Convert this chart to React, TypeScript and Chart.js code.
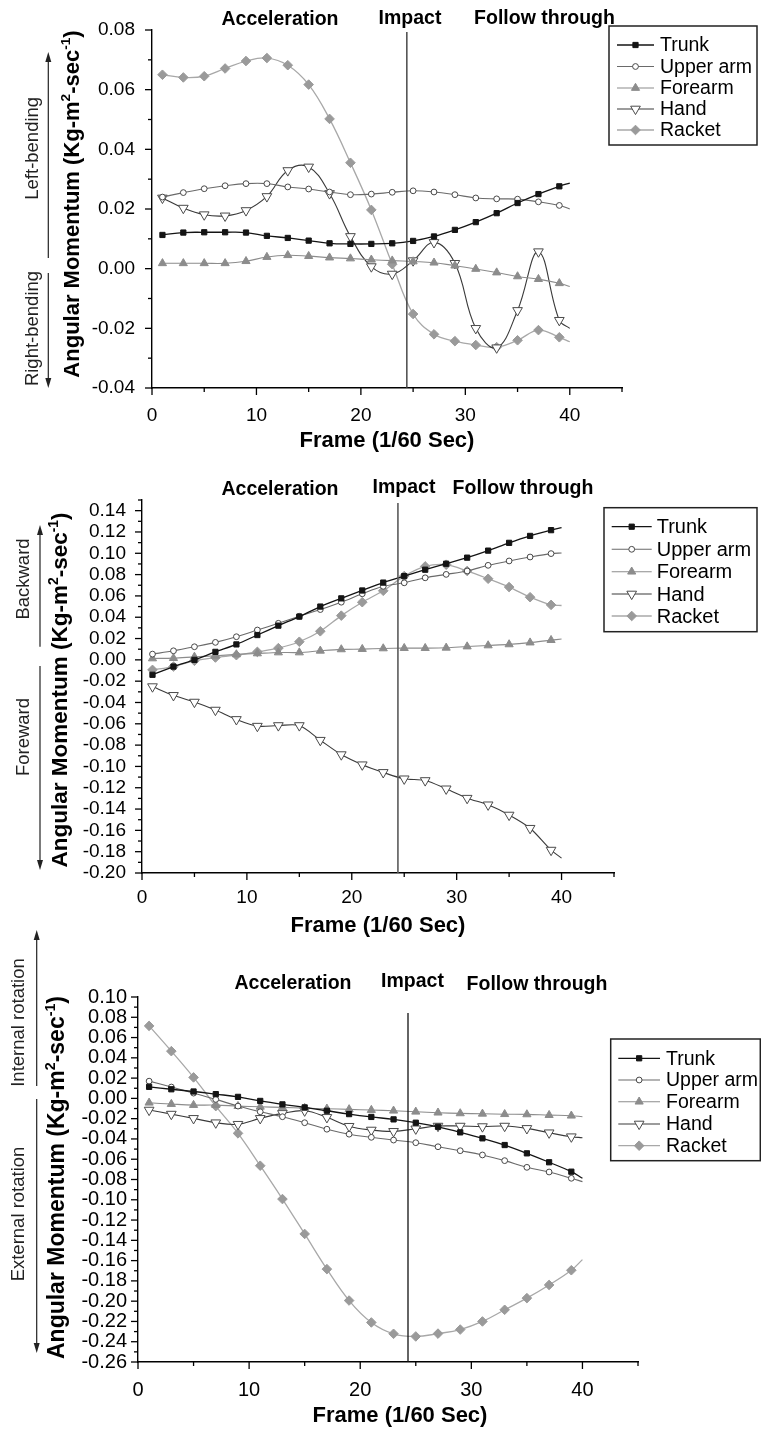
import React, { useEffect, useRef } from 'react';
import { Chart, registerables } from 'chart.js';
Chart.register(...registerables);

const FONT = '"Liberation Sans", Arial, Helvetica, sans-serif';

// ---------- data ----------
const FRAMES = [1, 3, 5, 7, 9, 11, 13, 15, 17, 19, 21, 23, 25, 27, 29, 31, 33, 35, 37, 39, 40];
const SERIES_NAMES = ['Trunk', 'Upper arm', 'Forearm', 'Hand', 'Racket'];
const X_TICKS = [0, 10, 20, 30, 40];
const PHASE_LABELS = ['Acceleration', 'Impact', 'Follow through'];
const X_TITLE = 'Frame (1/60 Sec)';
const Y_TITLE_PARTS = ['Angular Momentum (Kg-m', '2', '-sec', '-1', ')'];
const Y_TITLE_SUP = [false, true, false, true, false];
const IMPACT_FRAMES = [24.4, 24.4, 24.3];

// Panel 1: lateral bending
const Y_TICKS_1 = [-0.04, -0.02, 0.0, 0.02, 0.04, 0.06, 0.08];
const SIDE_LABELS_1 = ['Left-bending', 'Right-bending'];
const P1_TRUNK = [0.0113, 0.0121, 0.0122, 0.0122, 0.0121, 0.0110, 0.0103, 0.0094, 0.0085, 0.0083, 0.0083, 0.0085, 0.0093, 0.0108, 0.0130, 0.0156, 0.0186, 0.0220, 0.0250, 0.0276, 0.0287];
const P1_UPPER = [0.0240, 0.0255, 0.0268, 0.0278, 0.0285, 0.0285, 0.0274, 0.0267, 0.0257, 0.0248, 0.0250, 0.0256, 0.0261, 0.0257, 0.0248, 0.0237, 0.0234, 0.0233, 0.0224, 0.0212, 0.0200];
const P1_FOREARM = [0.0018, 0.0018, 0.0018, 0.0018, 0.0025, 0.0039, 0.0045, 0.0042, 0.0037, 0.0034, 0.0030, 0.0027, 0.0024, 0.0020, 0.0010, -0.0001, -0.0013, -0.0026, -0.0035, -0.0049, -0.0060];
const P1_HAND = [0.0237, 0.0203, 0.0181, 0.0177, 0.0195, 0.0242, 0.0329, 0.0341, 0.0252, 0.0108, 0.0007, -0.0018, 0.0027, 0.0088, 0.0018, -0.0200, -0.0265, -0.0140, 0.0057, -0.0173, -0.0200];
const P1_RACKET = [0.0650, 0.0641, 0.0645, 0.0671, 0.0696, 0.0706, 0.0682, 0.0617, 0.0502, 0.0355, 0.0197, 0.0015, -0.0152, -0.0220, -0.0243, -0.0256, -0.0263, -0.0240, -0.0206, -0.0230, -0.0245];

// Panel 2: flexion / extension
const Y_TICKS_2 = [-0.20, -0.18, -0.16, -0.14, -0.12, -0.10, -0.08, -0.06, -0.04, -0.02, 0.0, 0.02, 0.04, 0.06, 0.08, 0.10, 0.12, 0.14];
const SIDE_LABELS_2 = ['Backward', 'Foreward'];
const P2_TRUNK = [-0.0140, -0.0063, 0.0000, 0.0075, 0.0145, 0.0233, 0.0321, 0.0406, 0.0500, 0.0577, 0.0651, 0.0725, 0.0786, 0.0846, 0.0902, 0.0959, 0.1025, 0.1098, 0.1163, 0.1217, 0.1240];
const P2_UPPER = [0.0054, 0.0085, 0.0123, 0.0164, 0.0217, 0.0280, 0.0343, 0.0409, 0.0472, 0.0541, 0.0620, 0.0690, 0.0723, 0.0770, 0.0802, 0.0834, 0.0887, 0.0928, 0.0965, 0.0997, 0.1003];
const P2_FOREARM = [0.0013, 0.0016, 0.0028, 0.0038, 0.0051, 0.0060, 0.0069, 0.0069, 0.0085, 0.0098, 0.0101, 0.0107, 0.0110, 0.0110, 0.0113, 0.0125, 0.0135, 0.0145, 0.0162, 0.0185, 0.0195];
const P2_HAND = [-0.0251, -0.0333, -0.0396, -0.0471, -0.0559, -0.0622, -0.0616, -0.0616, -0.0754, -0.0889, -0.0984, -0.1056, -0.1116, -0.1132, -0.1210, -0.1298, -0.1360, -0.1456, -0.1580, -0.1785, -0.1860];
const P2_RACKET = [-0.0094, -0.0063, -0.0009, 0.0022, 0.0044, 0.0075, 0.0110, 0.0170, 0.0268, 0.0415, 0.0541, 0.0648, 0.0786, 0.0877, 0.0893, 0.0834, 0.0761, 0.0683, 0.0588, 0.0516, 0.0510];

// Panel 3: internal / external rotation
const Y_TICKS_3 = [-0.26, -0.24, -0.22, -0.20, -0.18, -0.16, -0.14, -0.12, -0.10, -0.08, -0.06, -0.04, -0.02, 0.0, 0.02, 0.04, 0.06, 0.08, 0.10];
const SIDE_LABELS_3 = ['Internal rotation', 'External rotation'];
const P3_TRUNK = [0.0114, 0.0090, 0.0068, 0.0042, 0.0015, -0.0025, -0.0059, -0.0089, -0.0122, -0.0155, -0.0183, -0.0207, -0.0240, -0.0280, -0.0335, -0.0394, -0.0460, -0.0542, -0.0630, -0.0723, -0.0788];
const P3_UPPER = [0.0170, 0.0112, 0.0052, -0.0010, -0.0076, -0.0132, -0.0181, -0.0240, -0.0304, -0.0353, -0.0384, -0.0411, -0.0437, -0.0477, -0.0516, -0.0558, -0.0614, -0.0680, -0.0726, -0.0788, -0.0821];
const P3_FOREARM = [-0.0043, -0.0056, -0.0066, -0.0066, -0.0076, -0.0083, -0.0089, -0.0096, -0.0102, -0.0108, -0.0115, -0.0122, -0.0132, -0.0141, -0.0148, -0.0152, -0.0156, -0.0158, -0.0165, -0.0171, -0.0181];
const P3_HAND = [-0.0115, -0.0155, -0.0197, -0.0240, -0.0255, -0.0197, -0.0148, -0.0122, -0.0187, -0.0275, -0.0312, -0.0325, -0.0300, -0.0273, -0.0273, -0.0278, -0.0273, -0.0296, -0.0339, -0.0378, -0.0388];
const P3_RACKET = [0.0715, 0.0466, 0.0207, -0.0076, -0.0345, -0.0664, -0.0993, -0.1337, -0.1684, -0.1994, -0.2210, -0.2322, -0.2348, -0.2320, -0.2280, -0.2200, -0.2085, -0.1970, -0.1840, -0.1695, -0.1590];

// ---------- styles ----------
const SERIES_STYLE = [
  { line: '#141414', lw: 1.3, shape: 'rect', r: 3.7, fill: '#141414', stroke: '#141414', rot: 0 },
  { line: '#6a6a6a', lw: 1.1, shape: 'circle', r: 2.9, fill: '#ffffff', stroke: '#474747', rot: 0 },
  { line: '#8c8c8c', lw: 1.1, shape: 'triangle', r: 4.7, fill: '#8c8c8c', stroke: '#8c8c8c', rot: 0 },
  { line: '#3a3a3a', lw: 1.1, shape: 'triangle', r: 5.6, fill: '#ffffff', stroke: '#4a4a4a', rot: 180 },
  { line: '#a8a8a8', lw: 1.3, shape: 'rectRot', r: 4.8, fill: '#9a9a9a', stroke: '#9a9a9a', rot: 0 },
];

type Pt = { x: number; y: number };
type PanelCfg = {
  top: number; height: number;
  area: { left: number; right: number; top: number; bottom: number };
  yMin: number; yMax: number; yTicks: number[]; yLabelPad: number; xLabelPad: number; tickFont: number;
  impact: number; impactTop: number; impactColor: string; impactWidth: number;
  headers: Pt[];
  legend: { x1: number; x2: number; y1: number; y2: number; rows: number[]; sx1: number; sx2: number; tx: number; font: number };
  yTitle: { x: number; y: number; size: number };
  xTitle: { x: number; y: number; size: number };
  sideLabels: string[]; sidePos: Pt[]; arrows: { x: number; from: number; tip: number }[];
  series: number[][]; tension: number;
};

const PANELS: PanelCfg[] = [
  {
    top: 0, height: 470,
    area: { left: 152, right: 622, top: 30, bottom: 388 },
    yMin: -0.04, yMax: 0.08, yTicks: Y_TICKS_1, yLabelPad: 17, xLabelPad: 16, tickFont: 19,
    impact: IMPACT_FRAMES[0], impactTop: 32, impactColor: '#3c3c3c', impactWidth: 1.4,
    headers: [{ x: 280, y: 20 }, { x: 410, y: 18.5 }, { x: 544.5, y: 18.5 }],
    legend: { x1: 609, x2: 757, y1: 26, y2: 145, rows: [45, 66.5, 88, 109, 130], sx1: 617, sx2: 654, tx: 660, font: 19.5 },
    yTitle: { x: 72.5, y: 204, size: 22 },
    xTitle: { x: 387, y: 441, size: 22 },
    sideLabels: SIDE_LABELS_1, sidePos: [{ x: 33.3, y: 148.3 }, { x: 33.3, y: 328.5 }],
    arrows: [{ x: 48.3, from: 258, tip: 52 }, { x: 48.3, from: 273, tip: 388 }],
    series: [P1_TRUNK, P1_UPPER, P1_FOREARM, P1_HAND, P1_RACKET], tension: 0.4,
  },
  {
    top: 470, height: 480,
    area: { left: 142, right: 614, top: 30, bottom: 403 },
    yMin: -0.2, yMax: 0.15, yTicks: Y_TICKS_2, yLabelPad: 16, xLabelPad: 13, tickFont: 19,
    impact: IMPACT_FRAMES[1], impactTop: 33, impactColor: '#5a5a5a', impactWidth: 1.6,
    headers: [{ x: 280, y: 19.7 }, { x: 404, y: 17.5 }, { x: 523, y: 19 }],
    legend: { x1: 604, x2: 757, y1: 37.7, y2: 161.7, rows: [56.7, 79.3, 101.7, 124, 146], sx1: 611.7, sx2: 651.7, tx: 656.7, font: 20 },
    yTitle: { x: 61, y: 220, size: 22.5 },
    xTitle: { x: 378, y: 456, size: 22 },
    sideLabels: SIDE_LABELS_2, sidePos: [{ x: 24, y: 109 }, { x: 24, y: 267 }],
    arrows: [{ x: 40, from: 176.7, tip: 55 }, { x: 40, from: 196, tip: 400 }],
    series: [P2_TRUNK, P2_UPPER, P2_FOREARM, P2_HAND, P2_RACKET], tension: 0.3,
  },
  {
    top: 900, height: 529,
    area: { left: 138, right: 638, top: 97, bottom: 462 },
    yMin: -0.26, yMax: 0.1, yTicks: Y_TICKS_3, yLabelPad: 11, xLabelPad: 16, tickFont: 20,
    impact: IMPACT_FRAMES[2], impactTop: 113, impactColor: '#111111', impactWidth: 1.3,
    headers: [{ x: 293, y: 84 }, { x: 412.5, y: 82 }, { x: 537, y: 85 }],
    legend: { x1: 610.7, x2: 760.3, y1: 139, y2: 260.7, rows: [158.3, 180, 201.7, 224, 245.7], sx1: 618.3, sx2: 660, tx: 666, font: 19.5 },
    yTitle: { x: 58, y: 277.5, size: 23 },
    xTitle: { x: 400, y: 516, size: 22 },
    sideLabels: SIDE_LABELS_3, sidePos: [{ x: 19, y: 122.5 }, { x: 19, y: 314 }],
    arrows: [{ x: 36.7, from: 186, tip: 30 }, { x: 36.7, from: 199, tip: 453 }],
    series: [P3_TRUNK, P3_UPPER, P3_FOREARM, P3_HAND, P3_RACKET], tension: 0.4,
  },
];

function drawMarker(ctx: CanvasRenderingContext2D, st: any, x: number, y: number) {
  const r = st.r;
  ctx.beginPath();
  if (st.shape === 'rect') {
    const s = r * Math.SQRT1_2;
    ctx.rect(x - s, y - s, 2 * s, 2 * s);
  } else if (st.shape === 'circle') {
    ctx.arc(x, y, r, 0, Math.PI * 2);
  } else if (st.shape === 'triangle') {
    let a = (st.rot * Math.PI) / 180;
    for (let i = 0; i < 3; i++) {
      const px = x + Math.sin(a) * r;
      const py = y - Math.cos(a) * r;
      if (i === 0) ctx.moveTo(px, py); else ctx.lineTo(px, py);
      a += (2 * Math.PI) / 3;
    }
    ctx.closePath();
  } else {
    ctx.moveTo(x, y - r); ctx.lineTo(x + r, y); ctx.lineTo(x, y + r); ctx.lineTo(x - r, y); ctx.closePath();
  }
  ctx.fillStyle = st.fill; ctx.fill();
  ctx.lineWidth = 1; ctx.strokeStyle = st.stroke; ctx.stroke();
}

function makeDecor(cfg: PanelCfg) {
  return {
    id: 'panelDecor',
    afterDraw(chart: any) {
      const ctx: CanvasRenderingContext2D = chart.ctx;
      const xs = chart.scales.x, ys = chart.scales.y;
      const a = chart.chartArea;
      ctx.save();
      // ticks (outward, major + minor)
      ctx.strokeStyle = '#000'; ctx.lineWidth = 1.3;
      const ny = Math.round((cfg.yMax - cfg.yMin) / 0.01);
      for (let k = 0; k <= ny; k++) {
        const v = cfg.yMin + k * 0.01;
        const major = cfg.yTicks.some((t) => Math.abs(t - v) < 1e-6);
        const len = major ? 7 : 4;
        const py = ys.getPixelForValue(v);
        ctx.beginPath(); ctx.moveTo(a.left - len, py); ctx.lineTo(a.left, py); ctx.stroke();
      }
      for (let v = 0; v <= 45 + 1e-9; v += 5) {
        const major = X_TICKS.includes(v);
        const len = major ? 7 : 4;
        const px = xs.getPixelForValue(v);
        ctx.beginPath(); ctx.moveTo(px, a.bottom); ctx.lineTo(px, a.bottom + len); ctx.stroke();
      }
      // impact line
      const ix = xs.getPixelForValue(cfg.impact);
      ctx.strokeStyle = cfg.impactColor; ctx.lineWidth = cfg.impactWidth;
      ctx.beginPath(); ctx.moveTo(ix, cfg.impactTop); ctx.lineTo(ix, a.bottom); ctx.stroke();
      // phase headers
      ctx.fillStyle = '#000'; ctx.textAlign = 'center'; ctx.textBaseline = 'middle';
      ctx.font = `bold 19.5px ${FONT}`;
      PHASE_LABELS.forEach((t, i) => ctx.fillText(t, cfg.headers[i].x, cfg.headers[i].y));
      // x title
      ctx.font = `bold ${cfg.xTitle.size}px ${FONT}`;
      ctx.fillText(X_TITLE, cfg.xTitle.x, cfg.xTitle.y);
      // y title with superscripts
      ctx.save();
      ctx.translate(cfg.yTitle.x, cfg.yTitle.y); ctx.rotate(-Math.PI / 2);
      const big = `bold ${cfg.yTitle.size}px ${FONT}`;
      const small = `bold ${cfg.yTitle.size * 0.62}px ${FONT}`;
      const widths = Y_TITLE_PARTS.map((p, i) => { ctx.font = Y_TITLE_SUP[i] ? small : big; return ctx.measureText(p).width; });
      let cx = -widths.reduce((s, w) => s + w, 0) / 2;
      ctx.textAlign = 'left';
      Y_TITLE_PARTS.forEach((p, i) => {
        ctx.font = Y_TITLE_SUP[i] ? small : big;
        ctx.fillText(p, cx, Y_TITLE_SUP[i] ? -cfg.yTitle.size * 0.3 : 0);
        cx += widths[i];
      });
      ctx.restore();
      // side labels + arrows
      ctx.fillStyle = '#222'; ctx.font = `18.5px ${FONT}`; ctx.textAlign = 'center'; ctx.textBaseline = 'middle';
      cfg.sideLabels.forEach((t, i) => {
        ctx.save(); ctx.translate(cfg.sidePos[i].x, cfg.sidePos[i].y); ctx.rotate(-Math.PI / 2);
        ctx.fillText(t, 0, 0); ctx.restore();
      });
      ctx.strokeStyle = '#222'; ctx.lineWidth = 1.2;
      cfg.arrows.forEach((ar) => {
        const dir = ar.tip < ar.from ? -1 : 1;
        ctx.beginPath(); ctx.moveTo(ar.x, ar.from); ctx.lineTo(ar.x, ar.tip - dir * 6); ctx.stroke();
        ctx.beginPath(); ctx.moveTo(ar.x, ar.tip); ctx.lineTo(ar.x - 3, ar.tip - dir * 10); ctx.lineTo(ar.x + 3, ar.tip - dir * 10); ctx.closePath();
        ctx.fillStyle = '#222'; ctx.fill();
      });
      // legend
      const L = cfg.legend;
      ctx.strokeStyle = '#222'; ctx.lineWidth = 1.5;
      ctx.strokeRect(L.x1, L.y1, L.x2 - L.x1, L.y2 - L.y1);
      ctx.font = `${L.font}px ${FONT}`; ctx.textAlign = 'left'; ctx.textBaseline = 'middle';
      SERIES_NAMES.forEach((name, i) => {
        const st = SERIES_STYLE[i];
        const y = L.rows[i];
        ctx.strokeStyle = st.line; ctx.lineWidth = st.lw;
        ctx.beginPath(); ctx.moveTo(L.sx1, y); ctx.lineTo(L.sx2, y); ctx.stroke();
        drawMarker(ctx, st, (L.sx1 + L.sx2) / 2, y);
        ctx.fillStyle = '#000';
        ctx.fillText(name, L.tx, y + 1);
      });
      ctx.restore();
    },
  };
}

function Panel({ cfg }: { cfg: PanelCfg }) {
  const ref = useRef<HTMLCanvasElement>(null);
  useEffect(() => {
    const last = FRAMES.length - 1;
    const datasets = cfg.series.map((vals, i) => {
      const st = SERIES_STYLE[i];
      return {
        label: SERIES_NAMES[i],
        data: FRAMES.map((f, j) => ({ x: f, y: vals[j] })),
        borderColor: st.line,
        borderWidth: st.lw,
        backgroundColor: st.fill,
        pointBackgroundColor: st.fill,
        pointBorderColor: st.stroke,
        pointBorderWidth: 1,
        pointStyle: st.shape,
        pointRotation: st.rot,
        pointRadius: (c: any) => (c.dataIndex === last ? 0 : st.r),
        pointHoverRadius: 0,
        tension: cfg.tension,
        fill: false,
      };
    });
    const chart = new Chart(ref.current as HTMLCanvasElement, {
      type: 'line',
      data: { datasets } as any,
      options: {
        responsive: false,
        animation: false,
        devicePixelRatio: 1,
        events: [],
        layout: { padding: { left: 0, top: cfg.area.top, right: 761 - cfg.area.right, bottom: 0 } },
        plugins: { legend: { display: false }, tooltip: { enabled: false }, title: { display: false } },
        scales: {
          x: {
            type: 'linear', min: 0, max: 45,
            grid: { display: false, drawTicks: false, tickLength: 0 },
            border: { display: true, color: '#000', width: 1.4 },
            ticks: { color: '#000', font: { family: FONT, size: cfg.tickFont }, padding: cfg.xLabelPad, autoSkip: false, maxRotation: 0, callback: (v: any) => String(v) },
            afterBuildTicks: (s: any) => { s.ticks = X_TICKS.map((v) => ({ value: v })); },
            afterFit: (s: any) => { s.height = cfg.height - cfg.area.bottom; },
          },
          y: {
            type: 'linear', min: cfg.yMin, max: cfg.yMax,
            grid: { display: false, drawTicks: false, tickLength: 0 },
            border: { display: true, color: '#000', width: 1.4 },
            ticks: { color: '#000', font: { family: FONT, size: cfg.tickFont }, padding: cfg.yLabelPad, autoSkip: false, callback: (v: any) => Number(v).toFixed(2) },
            afterBuildTicks: (s: any) => { s.ticks = cfg.yTicks.map((v) => ({ value: v })); },
            afterFit: (s: any) => { s.width = cfg.area.left; },
          },
        },
      } as any,
      plugins: [makeDecor(cfg)],
    });
    return () => chart.destroy();
  }, [cfg]);
  return (
    <canvas
      ref={ref}
      width={761}
      height={cfg.height}
      style={{ position: 'absolute', left: 0, top: cfg.top, width: 761, height: cfg.height, display: 'block' }}
    />
  );
}

export default function App() {
  return (
    <div style={{ position: 'absolute', left: 0, top: 0, width: 761, height: 1429, background: '#fff', overflow: 'hidden' }}>
      {PANELS.map((p, i) => (
        <Panel key={i} cfg={p} />
      ))}
    </div>
  );
}
